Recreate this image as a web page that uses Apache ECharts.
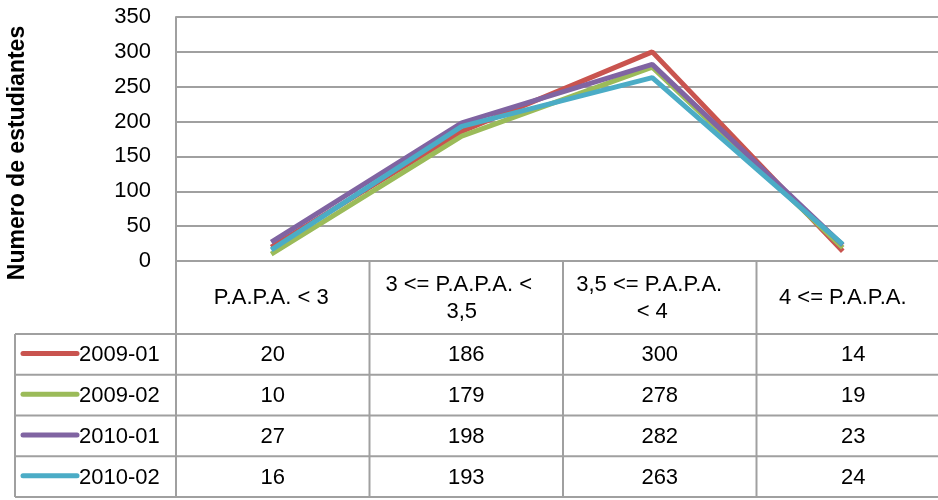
<!DOCTYPE html>
<html>
<head>
<meta charset="utf-8">
<script src="https://cdn.jsdelivr.net/npm/echarts@6/dist/echarts.min.js"></script>
<style>
  html, body { margin: 0; padding: 0; background: #fff; }
  #chart { width: 938px; height: 500px; }
</style>
</head>
<body>
<div id="chart"></div>
<script>
// datos
var categorias = ['P.A.P.A. < 3', '3 <= P.A.P.A. < 3,5', '3,5 <= P.A.P.A. < 4', '4 <= P.A.P.A.'];
var periodos = ['2009-01', '2009-02', '2010-01', '2010-02'];
var s2009_01 = [20, 186, 300, 14];
var s2009_02 = [10, 179, 278, 19];
var s2010_01 = [27, 198, 282, 23];
var s2010_02 = [16, 193, 263, 24];
var yTicks = [0, 50, 100, 150, 200, 250, 300, 350];

var valores = [s2009_01, s2009_02, s2010_01, s2010_02];
var colores = ['#c9544f', '#9bbb59', '#8064a2', '#4bacc6'];

var chart = echarts.init(document.getElementById('chart'));

// layout
var gLeft = 176, gTop = 17, gWidth = 774, gHeight = 244;
var colW = gWidth / categorias.length;
var headBottom = 334, rowH = 40.75, legLeft = 15;
var tableBottom = headBottom + rowH * periodos.length;
var gris = '#a0a0a0';
var fuente = 'Liberation Sans, Arial, sans-serif';
var tam = 22;

var graficos = [];
function linea(x1, y1, x2, y2) {
  graficos.push({
    type: 'line', silent: true, z: 10,
    shape: { x1: x1, y1: y1, x2: x2, y2: y2 },
    style: { stroke: gris, lineWidth: 2 }
  });
}
function texto(t, x, y, align, extra) {
  var el = {
    type: 'text', silent: true, z: 11, x: x, y: y,
    style: { text: t, fill: '#000', fontSize: tam, fontFamily: fuente, align: align, verticalAlign: 'middle' }
  };
  if (extra) { for (var k in extra) el[k] = extra[k]; }
  graficos.push(el);
}

// lineas de la tabla
for (var c = 0; c <= categorias.length; c++) {
  linea(gLeft + c * colW, gTop + gHeight, gLeft + c * colW, tableBottom);
}
linea(legLeft, headBottom, legLeft, tableBottom);
for (var r = 0; r <= periodos.length; r++) {
  linea(legLeft, headBottom + r * rowH, gLeft + gWidth, headBottom + r * rowH);
}

// filas de la tabla
periodos.forEach(function (p, i) {
  var yc = headBottom + rowH * i + rowH / 2;
  graficos.push({
    type: 'line', silent: true, z: 11,
    shape: { x1: 23, y1: yc - 1, x2: 77, y2: yc - 1 },
    style: { stroke: colores[i], lineWidth: 5, lineCap: 'round' }
  });
  texto(p, 79, yc + 1, 'left');
  valores[i].forEach(function (v, j) {
    texto(String(v), gLeft + colW * j + colW / 2, yc + 1, 'center');
  });
});

// titulo del eje
texto('Numero de estudiantes', 18, 153, 'center', { rotation: Math.PI / 2 });
graficos[graficos.length - 1].style.fontWeight = 'bold';
graficos[graficos.length - 1].style.fontSize = 23;

var option = {
  animation: false,
  grid: { left: gLeft, top: gTop, width: gWidth, height: gHeight, containLabel: false },
  xAxis: {
    type: 'category',
    data: categorias,
    boundaryGap: true,
    axisLine: { show: true, lineStyle: { color: gris, width: 2 } },
    axisTick: { show: false },
    splitLine: { show: false },
    axisLabel: {
      interval: 0, margin: 37, color: '#000', fontSize: tam, fontFamily: fuente,
      width: 165, overflow: 'break', lineHeight: 27, verticalAlign: 'middle'
    }
  },
  yAxis: {
    type: 'value',
    min: yTicks[0], max: yTicks[yTicks.length - 1], interval: yTicks[1] - yTicks[0],
    axisLine: { show: true, lineStyle: { color: gris, width: 2 } },
    axisTick: { show: false },
    splitLine: { show: true, lineStyle: { color: gris, width: 2 } },
    axisLabel: { margin: 25, color: '#000', fontSize: tam, fontFamily: fuente }
  },
  series: periodos.map(function (p, i) {
    return {
      name: p, type: 'line', data: valores[i], symbol: 'none',
      lineStyle: { color: colores[i], width: 5 },
      itemStyle: { color: colores[i] }
    };
  }),
  graphic: graficos
};

chart.setOption(option);
</script>
</body>
</html>
